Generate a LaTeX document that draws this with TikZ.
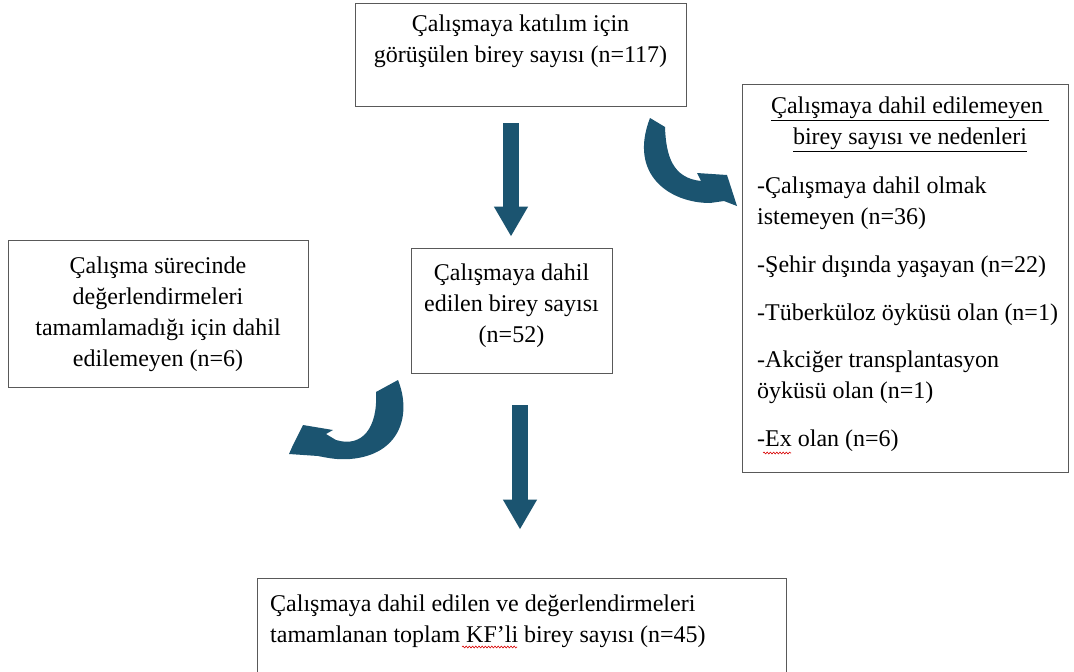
\documentclass[tikz,border=0pt]{standalone}
\usepackage{fontspec}
\setmainfont{Liberation Serif}
\usepackage{tikz}
\usetikzlibrary{arrows.meta,positioning,calc,decorations.pathmorphing}
\usepackage{xcolor}
\definecolor{okmavi}{RGB}{27,84,112}

\begin{document}
\begin{tikzpicture}[x=1pt, y=-1pt,
    kutu/.style={draw=black!65, line width=0.9pt, inner sep=0pt},
    yazi/.style={inner sep=0pt, font=\fontsize{24}{31}\selectfont},
    okduz/.style={okmavi, line width=16pt, -{Triangle[width=32pt, length=30pt]}},
    dalga/.style={red!85!black, line width=0.6pt, decorate, decoration={snake, amplitude=0.9pt, segment length=3.2pt}}]
    \useasboundingbox (0,0) rectangle (1074,672);
    \clip (0,0) rectangle (1074,672);
    \fill[white] (0,0) rectangle (1074,672);

    % Top: interviewed
    \node[kutu, minimum width=331pt, minimum height=103pt] (katilim) at (520.5,54.5) {};
    \node[yazi, align=center, anchor=north] (katilimyazi) at (520.5,15) {Çalışmaya katılım için\\görüşülen birey sayısı (n=117)};

    % Right: excluded and reasons
    \node[kutu, minimum width=326pt, minimum height=388pt] (nedenler) at (905,278) {};
    \node[yazi, align=center, anchor=north] (nedenbaslik) at (910,97) {\underline{Çalışmaya dahil edilemeyen }\\\underline{birey sayısı ve nedenleri}};
    \node[yazi, align=left, anchor=north west] (nedenliste) at (757,177) {-Çalışmaya dahil olmak\\istemeyen (n=36)\\[17pt]-Şehir dışında yaşayan (n=22)\\[17pt]-Tüberküloz öyküsü olan (n=1)\\[16pt]-Akciğer transplantasyon\\öyküsü olan (n=1)\\[17pt]-Ex olan (n=6)};

    % Left: not completed
    \node[kutu, minimum width=300pt, minimum height=147pt] (surec) at (158,313.5) {};
    \node[yazi, align=center, anchor=north] (surecyazi) at (158,257) {Çalışma sürecinde\\değerlendirmeleri\\tamamlamadığı için dahil\\edilemeyen (n=6)};

    % Middle: included
    \node[kutu, minimum width=201pt, minimum height=125pt] (dahil) at (511.5,310.5) {};
    \node[yazi, align=center, anchor=north] (dahilyazi) at (511.5,264) {Çalışmaya dahil\\edilen birey sayısı\\(n=52)};

    % Bottom: total
    \node[kutu, minimum width=529pt, minimum height=122pt] (toplam) at (521.5,639) {};
    \node[yazi, align=left, anchor=north west] (toplamyazi) at (270,595) {Çalışmaya dahil edilen ve değerlendirmeleri\\tamamlanan toplam KF’li birey sayısı (n=45)};

    % Straight arrows
    \draw[okduz] ($(katilim.south)+(-9.5,17)$) -- ($(dahil.north)+(-0.5,-11)$);
    \draw[okduz] ($(dahil.south)+(8.5,32)$) -- ($(toplam.north)+(-1.5,-48)$);

    % Curved arrow to the right box
    \fill[okmavi] (650,118) -- (665,127)
        .. controls (666,155) and (672,178) .. (701,181)
        -- (697,173) -- (727,175) -- (737,206) -- (724,201) -- (710,203)
        .. controls (670,203) and (628,175) .. (650,118) -- cycle;

    % Curved arrow to the left box
    \fill[okmavi] (376,392) -- (398,380)
        .. controls (412,415) and (400,455) .. (350,459)
        .. controls (338,460) and (328,458) .. (318,456)
        -- (289,454) -- (293,445) -- (303,425) -- (333,430) -- (326,434) -- (336,440)
        .. controls (362,448) and (378,428) .. (376,392) -- cycle;

    % Spelling marks
    \draw[dalga] (763,453) -- (791,453);
    \draw[dalga] (462,647) -- (517,647);
\end{tikzpicture}
\end{document}
